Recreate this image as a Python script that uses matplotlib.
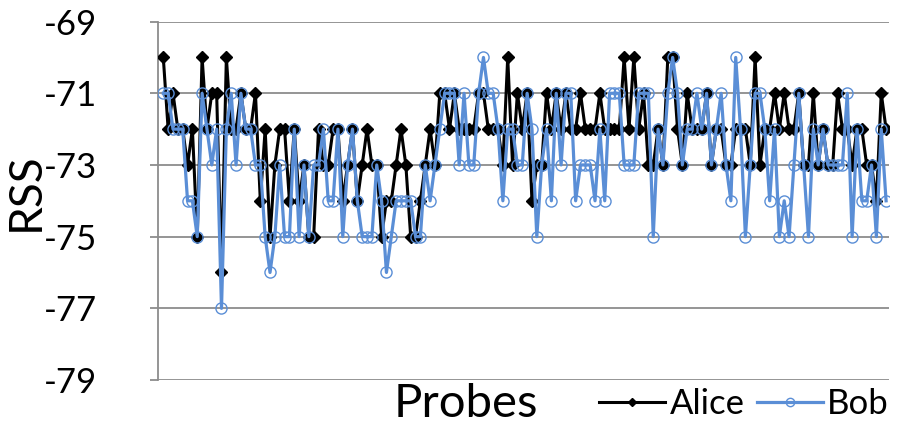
import matplotlib
matplotlib.use("Agg")
import matplotlib.pyplot as plt
import numpy as np

alice = [-70, -72, -71, -72, -72, -73, -72, -75, -70, -72,
         -71, -71, -76, -70, -72, -72, -71, -72, -72, -71,
         -74, -72, -75, -73, -72, -72, -74, -72, -74, -73,
         -75, -75, -72, -73, -73, -72, -72, -74, -73, -72,
         -74, -73, -72, -73, -73, -75, -74, -74, -73, -72,
         -73, -75, -75, -74, -73, -72, -73, -71, -71, -72,
         -71, -72, -72, -72, -72, -71, -71, -72, -72, -72,
         -73, -70, -73, -71, -72, -71, -74, -73, -73, -71,
         -72, -71, -72, -71, -72, -72, -71, -72, -72, -72,
         -71, -72, -72, -72, -72, -70, -72, -70, -72, -71,
         -73, -73, -72, -73, -70, -70, -72, -73, -71, -72,
         -72, -72, -71, -73, -72, -72, -73, -73, -72, -72,
         -72, -73, -70, -73, -72, -72, -71, -72, -71, -72,
         -72, -71, -73, -73, -71, -73, -72, -73, -73, -71,
         -72, -72, -73, -72, -72, -73, -73, -74, -71, -72]

bob = [-71, -71, -72, -72, -72, -74, -74, -75, -71, -72,
       -73, -72, -77, -72, -71, -73, -71, -72, -72, -73,
       -73, -75, -76, -75, -73, -75, -75, -72, -75, -73,
       -75, -73, -73, -72, -74, -74, -72, -75, -73, -72,
       -74, -75, -75, -75, -73, -74, -76, -75, -74, -74,
       -74, -74, -75, -75, -73, -74, -73, -72, -71, -71,
       -71, -73, -71, -73, -73, -71, -70, -71, -71, -72,
       -74, -72, -72, -73, -73, -71, -72, -75, -73, -72,
       -74, -71, -73, -71, -71, -74, -73, -73, -73, -74,
       -72, -74, -71, -71, -71, -73, -73, -73, -71, -71,
       -71, -75, -72, -73, -71, -70, -71, -73, -72, -72,
       -71, -72, -71, -73, -72, -71, -73, -74, -70, -72,
       -75, -73, -71, -71, -72, -74, -72, -75, -74, -75,
       -73, -71, -73, -75, -72, -73, -72, -73, -73, -73,
       -73, -71, -75, -72, -74, -74, -73, -75, -72, -74]

yticks = [-69, -71, -73, -75, -77, -79]
series_names = ["Alice", "Bob"]
x_title = "Probes"
y_title = "RSS"

FONT = "Lato"
plt.rcParams['font.family'] = [FONT, 'DejaVu Sans']

W, H = 902, 424
fig = plt.figure(figsize=(W / 100, H / 100), dpi=100)
L, R, T, B = 158, 889, 21.6, 380
ax = fig.add_axes([L / W, 1 - B / H, (R - L) / W, (B - T) / H])

x = np.arange(len(alice))
blue = '#5A8ED6'
ax.plot(x, alice, color='black', lw=2.2, marker='D', markersize=6,
        markerfacecolor='black', markeredgecolor='black', label=series_names[0], zorder=3)
ax.plot(x, bob, color=blue, lw=2.3, marker='o', markersize=8,
        markerfacecolor='none', markeredgecolor=blue, markeredgewidth=1.0,
        label=series_names[1], zorder=4)

ax.set_ylim(-79, -69)
ax.set_xlim(-1.09, 149.6)
ax.set_yticks(yticks)
ax.set_yticklabels([str(v) for v in yticks])
ax.set_xticks([])
ax.grid(axis='y', color='#8c8c8c', lw=1.3)
ax.set_axisbelow(True)
for s in ['top', 'right', 'bottom']:
    ax.spines[s].set_visible(False)
ax.spines['left'].set_color('#8c8c8c')
ax.spines['left'].set_linewidth(1.3)
ax.tick_params(axis='y', length=6, width=1.3, color='#8c8c8c', pad=38,
               labelsize=25)

fig.text(466 / W, 1 - 404 / H, x_title, fontsize=34, ha='center', va='center')
fig.text(26 / W, 1 - 192 / H, y_title, fontsize=33, ha='center', va='center',
         rotation=90)

leg = fig.legend(loc='center', bbox_to_anchor=(744 / W, 1 - 404 / H), ncol=2,
                 frameon=False, fontsize=25, handlelength=1.9, handletextpad=0.12,
                 columnspacing=0.35, borderpad=0, markerscale=0.75)

fig.savefig("out.png", dpi=100)
